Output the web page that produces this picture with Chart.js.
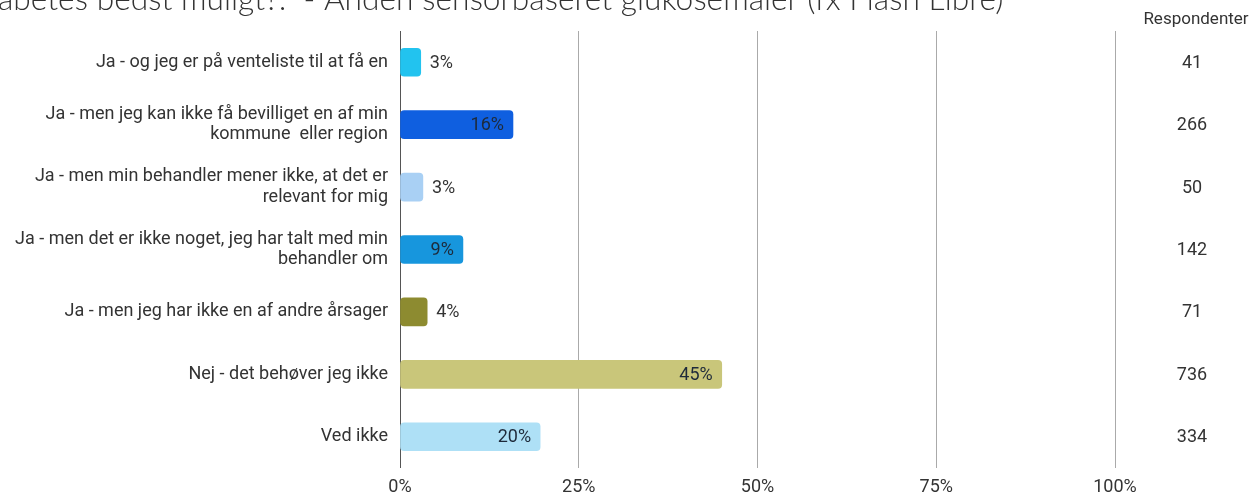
<!DOCTYPE html>
<html>
<head>
<meta charset="utf-8">
<script src="https://cdn.jsdelivr.net/npm/chart.js@4"></script>
<style>
  html, body { margin: 0; padding: 0; background: #fff; }
  #wrap { width: 1252px; height: 494px; position: relative; }
</style>
</head>
<body>
<div id="wrap"><canvas id="myChart"></canvas></div>
<script>
const titleText = 'abetes bedst muligt?:  - Anden sensorbaseret glukosemåler (fx Flash Libre)';
const categories = [
    'Ja - og jeg er på venteliste til at få en',
    ['Ja - men jeg kan ikke få bevilliget en af min', 'kommune  eller region'],
    ['Ja - men min behandler mener ikke, at det er', 'relevant for mig'],
    ['Ja - men det er ikke noget, jeg har talt med min', 'behandler om'],
    'Ja - men jeg har ikke en af andre årsager',
    'Nej - det behøver jeg ikke',
    'Ved ikke'
];
const shares = [2.9, 15.8, 3.2, 8.8, 3.8, 45.0, 19.6];
const shareLabels = ['3%', '16%', '3%', '9%', '4%', '45%', '20%'];
const respondents = [41, 266, 50, 142, 71, 736, 334];
const xTicks = [0, 25, 50, 75, 100];
const barColors = ['#22c3ef', '#0f5fe0', '#a9d0f4', '#1796dd', '#8d8b30', '#c9c67a', '#aee0f6'];

// labels on bars, respondent column and the clipped title
const extras = {
    id: 'extras',
    afterDatasetsDraw(chart) {
        const ctx = chart.ctx;
        const meta = chart.getDatasetMeta(0);
        ctx.save();
        ctx.font = '18px Roboto';
        ctx.textBaseline = 'middle';
        meta.data.forEach((bar, i) => {
            if (shares[i] > 6) {
                ctx.fillStyle = '#1e2a3a';
                ctx.textAlign = 'right';
                ctx.fillText(shareLabels[i], bar.x - 9, bar.y + 1);
            } else {
                ctx.fillStyle = '#333';
                ctx.textAlign = 'left';
                ctx.fillText(shareLabels[i], bar.x + 9, bar.y + 1);
            }
            ctx.fillStyle = '#333';
            ctx.textAlign = 'center';
            ctx.fillText(respondents[i], 1192, bar.y + 1);
        });
        ctx.font = '17px Roboto';
        ctx.fillText('Respondenter', 1196, 20);

        ctx.font = '300 24px Lato';
        const w = ctx.measureText(titleText).width;
        const size = 24 * 1005 / w;
        ctx.font = '300 ' + size.toFixed(1) + 'px Lato';
        ctx.fillStyle = '#333';
        ctx.textAlign = 'left';
        ctx.textBaseline = 'alphabetic';
        ctx.fillText(titleText, -2, 10);
        ctx.restore();
    }
};

const ctx = document.getElementById('myChart').getContext('2d');
const myChart = new Chart(ctx, {
    type: 'bar',
    data: {
        labels: categories,
        datasets: [{
            data: shares,
            backgroundColor: barColors,
            borderRadius: 4,
            borderSkipped: false,
            barThickness: 28
        }]
    },
    options: {
        indexAxis: 'y',
        responsive: true,
        maintainAspectRatio: false,
        animation: false,
        layout: { padding: { top: 31, right: 137, left: 0, bottom: 0 } },
        plugins: {
            legend: { display: false },
            tooltip: { enabled: false }
        },
        scales: {
            x: {
                min: 0,
                max: 100,
                afterBuildTicks: (axis) => { axis.ticks = xTicks.map(v => ({ value: v })); },
                afterFit: (axis) => { axis.height = 26; },
                grid: {
                    drawTicks: false,
                    color: (c) => c.tick && c.tick.value === 0 ? '#555' : '#aaa',
                    lineWidth: 1
                },
                border: { display: false },
                ticks: {
                    padding: 9,
                    color: '#333',
                    font: { family: 'Roboto', size: 18 },
                    callback: (v) => v + '%'
                }
            },
            y: {
                afterFit: (axis) => { axis.width = 400; },
                grid: { display: false, drawTicks: false },
                border: { display: false },
                ticks: {
                    padding: 12,
                    color: '#333',
                    font: { family: 'Roboto', size: 18, lineHeight: 1.15 }
                }
            }
        }
    },
    plugins: [extras]
});
</script>
</body>
</html>
